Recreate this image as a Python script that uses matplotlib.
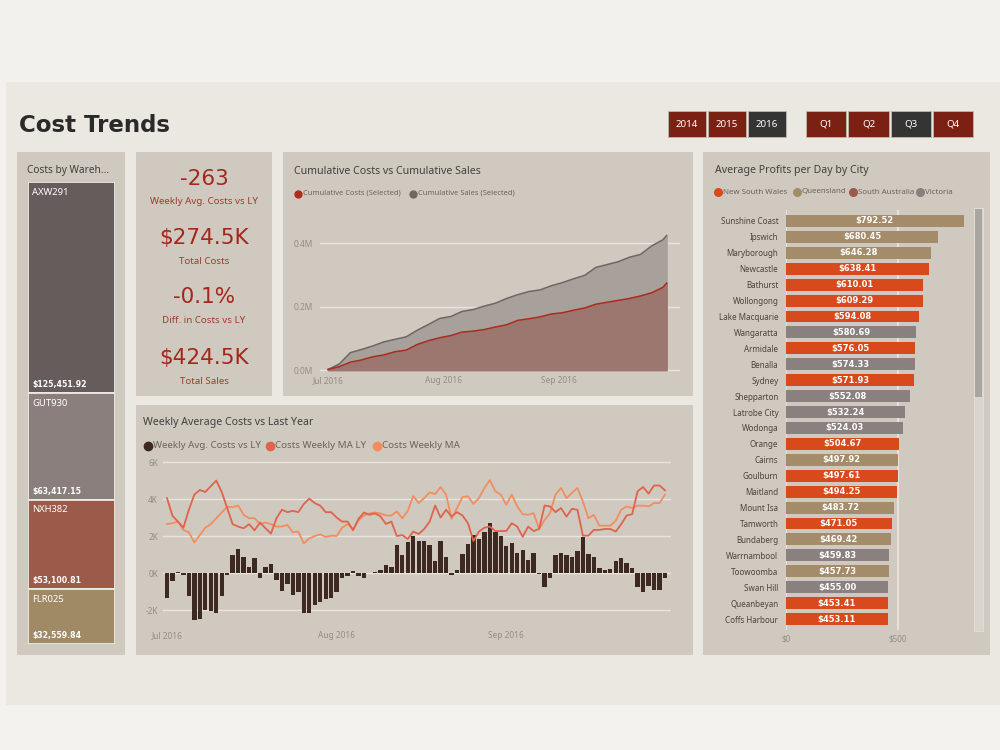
import matplotlib.pyplot as plt
from matplotlib.patches import Rectangle
from matplotlib.lines import Line2D

plt.rcParams['font.family'] = ['Noto Sans', 'DejaVu Sans']

# ---- data ----
years = ["2014", "2015", "2016"]
quarters = ["Q1", "Q2", "Q3", "Q4"]
selected_year = "2016"
selected_quarter = "Q3"

warehouses = ["AXW291", "GUT930", "NXH382", "FLR025"]
warehouse_costs = [125451.92, 63417.15, 53100.81, 32559.84]
warehouse_colors = ["#655c5b", "#8b7f7e", "#9b5a4a", "#a08a66"]

kpi_values = ["-263", "$274.5K", "-0.1%", "$424.5K"]
kpi_labels = ["Weekly Avg. Costs vs LY", "Total Costs", "Diff. in Costs vs LY", "Total Sales"]

month_labels = ["Jul 2016", "Aug 2016", "Sep 2016"]
month_start = [0, 31, 62]

# cumulative values (millions), read every 3 days from 1 Jul
cum_days = [0, 3, 6, 9, 12, 15, 18, 21, 24, 27, 30, 33, 36, 39, 42, 45,
            48, 51, 54, 57, 60, 63, 66, 69, 72, 75, 78, 81, 84, 87, 90, 91]
cum_sales = [0.002, 0.019, 0.055, 0.065, 0.076, 0.089, 0.097, 0.105, 0.126, 0.144, 0.163,
             0.169, 0.185, 0.191, 0.202, 0.211, 0.226, 0.238, 0.248, 0.253, 0.266, 0.276,
             0.288, 0.299, 0.324, 0.333, 0.342, 0.356, 0.365, 0.392, 0.411, 0.4245]
cum_costs = [0.002, 0.011, 0.025, 0.032, 0.042, 0.048, 0.058, 0.063, 0.081, 0.093, 0.102,
             0.109, 0.120, 0.123, 0.128, 0.136, 0.143, 0.157, 0.162, 0.168, 0.177, 0.181,
             0.189, 0.196, 0.208, 0.214, 0.220, 0.226, 0.234, 0.244, 0.261, 0.2745]

# daily values (thousands), 1 Jul - 30 Sep
weekly_vs_ly = [-1.35, -0.45, 0.05, -0.1, -1.25, -2.6, -2.5, -2.0, -2.05, -2.15,
                -1.25, -0.1, 1.0, 1.3, 0.85, 0.3, 0.8, -0.25, 0.3, 0.5,
                -0.4, -0.95, -0.6, -1.2, -1.0, -2.15, -2.15, -1.75, -1.55, -1.4,
                -1.35, -1.0, -0.25, -0.15, 0.12, -0.15, -0.28, -0.02, 0.04, 0.16,
                0.45, 0.3, 1.5, 1.0, 1.7, 2.0, 1.75, 1.73, 1.5, 0.67,
                1.73, 0.85, -0.1, 0.18, 1.04, 1.56, 2.05, 1.85, 2.2, 2.69,
                2.2, 2.02, 1.47, 1.62, 1.07, 1.27, 0.7, 1.09, -0.03, -0.78,
                -0.26, 0.98, 1.06, 1.0, 0.87, 1.2, 1.93, 1.02, 0.84, 0.28,
                0.19, 0.2, 0.65, 0.81, 0.56, 0.28, -0.78, -1.04, -0.69, -0.94,
                -0.94, -0.26]
costs_ma_ly = [4.05, 3.09, 2.78, 2.45, 3.42, 4.24, 4.49, 4.38, 4.69, 5.0,
               4.38, 3.51, 2.64, 2.51, 2.42, 2.64, 2.31, 2.73, 2.42, 2.13,
               2.96, 3.42, 3.29, 3.36, 3.29, 3.73, 4.02, 3.78, 3.64, 3.29,
               3.29, 3.0, 2.78, 2.78, 2.31, 2.93, 3.27, 3.15, 3.22, 3.07,
               2.65, 2.78, 2.0, 2.05, 1.84, 2.24, 2.11, 2.38, 2.78, 3.65,
               3.0, 3.42, 3.05, 3.29, 3.11, 2.69, 1.73, 2.24, 2.45, 2.51,
               2.27, 2.27, 2.27, 2.69, 2.51, 1.96, 2.51, 2.27, 2.38, 3.65,
               3.6, 3.29, 3.51, 3.05, 3.47, 3.42, 2.02, 2.02, 2.33, 2.33,
               2.38, 2.38, 2.24, 2.64, 3.11, 3.18, 4.42, 4.65, 4.29, 4.73,
               4.73, 4.47]
costs_ma = [2.65, 2.69, 2.78, 2.33, 2.2, 1.65, 2.05, 2.45, 2.64, 2.96,
            3.27, 3.58, 3.56, 3.65, 3.15, 2.96, 2.96, 2.65, 2.73, 2.64,
            2.51, 2.51, 2.6, 2.2, 2.24, 1.6, 1.87, 2.0, 2.09, 1.95,
            2.02, 2.0, 2.45, 2.64, 2.38, 2.84, 3.11, 3.22, 3.27, 3.22,
            3.11, 3.11, 3.33, 2.96, 3.36, 4.15, 3.78, 4.05, 4.36, 4.27,
            4.65, 4.24, 2.93, 3.51, 4.11, 4.15, 3.73, 4.05, 4.6, 5.02,
            4.42, 4.24, 3.69, 4.24, 3.6, 3.18, 3.15, 3.24, 2.38, 2.87,
            3.24, 4.24, 4.6, 4.05, 4.33, 4.6, 3.87, 2.96, 3.15, 2.56,
            2.56, 2.56, 2.82, 3.42, 3.6, 3.51, 3.64, 3.64, 3.6, 3.78,
            3.78, 4.24]

cities = ["Sunshine Coast", "Ipswich", "Maryborough", "Newcastle", "Bathurst", "Wollongong",
          "Lake Macquarie", "Wangaratta", "Armidale", "Benalla", "Sydney", "Shepparton",
          "Latrobe City", "Wodonga", "Orange", "Cairns", "Goulburn", "Maitland", "Mount Isa",
          "Tamworth", "Bundaberg", "Warrnambool", "Toowoomba", "Swan Hill", "Queanbeyan",
          "Coffs Harbour"]
city_profit = [792.52, 680.45, 646.28, 638.41, 610.01, 609.29, 594.08, 580.69, 576.05,
               574.33, 571.93, 552.08, 532.24, 524.03, 504.67, 497.92, 497.61, 494.25,
               483.72, 471.05, 469.42, 459.83, 457.73, 455.00, 453.41, 453.11]
city_state = ["QLD", "QLD", "QLD", "NSW", "NSW", "NSW", "NSW", "VIC", "NSW", "VIC", "NSW",
              "VIC", "VIC", "VIC", "NSW", "QLD", "NSW", "NSW", "QLD", "NSW", "QLD", "VIC",
              "QLD", "VIC", "NSW", "NSW"]
state_names = ["New South Wales", "Queensland", "South Australia", "Victoria"]
state_codes = ["NSW", "QLD", "SA", "VIC"]
state_colors = {"NSW": "#d84a1b", "QLD": "#a48b69", "SA": "#9b5a4a", "VIC": "#8b8080"}

# ---- layout helpers (pixel coords, origin top-left) ----
W, H = 1000, 750
PANEL = "#d0c9bf"
TITLE_C = "#404040"
TICK_C = "#948d86"
LEG_C = "#6b645e"

fig = plt.figure(figsize=(10, 7.5), dpi=100, facecolor="#ebe8e1")


def rect(x0, y0, x1, y1, color, z=-1, ec="none", lw=0):
    fig.add_artist(Rectangle((x0 / W, 1 - y1 / H), (x1 - x0) / W, (y1 - y0) / H,
                             transform=fig.transFigure, facecolor=color,
                             edgecolor=ec, linewidth=lw, zorder=z))


def ftext(x, y, s, **kw):
    kw.setdefault("va", "center")
    fig.text(x / W, 1 - y / H, s, **kw)


def dot(x, y, color, size=5.5):
    fig.add_artist(Line2D([x / W], [1 - y / H], marker="o", markersize=size,
                          color=color, linestyle="none", transform=fig.transFigure))


def add_ax(x0, y0, x1, y1):
    ax = fig.add_axes([x0 / W, 1 - y1 / H, (x1 - x0) / W, (y1 - y0) / H])
    ax.set_facecolor("none")
    for s in ax.spines.values():
        s.set_visible(False)
    return ax


# background bands
rect(0, 0, 1000, 82, "#f2f1ed", z=-3)
rect(0, 82, 6, 705, "#f3f2ee", z=-3)
rect(0, 705, 1000, 750, "#f3f2ef", z=-3)

# title
ftext(19, 126, "Cost Trends", fontsize=16.5, fontweight="bold",
      family=["DejaVu Sans"], color="#2a2a2a")

# slicer buttons
year_btn = [(668, 706), (708, 746), (748, 786)]
for (x0, x1), y in zip(year_btn, years):
    c = "#343434" if y == selected_year else "#7b2114"
    rect(x0, 111, x1, 137, c, z=1, ec="#bdb8b2", lw=0.6)
    ftext((x0 + x1) / 2, 124.5, y, ha="center", color="white", fontsize=7)
q_btn = [(806, 846), (848, 889), (891, 931), (933, 973)]
for (x0, x1), q in zip(q_btn, quarters):
    c = "#343434" if q == selected_quarter else "#7b2114"
    rect(x0, 111, x1, 137, c, z=1, ec="#bdb8b2", lw=0.6)
    ftext((x0 + x1) / 2, 124.5, q, ha="center", color="white", fontsize=7)

# panels
rect(17, 152, 125, 655, PANEL)
rect(136, 152, 272, 396, PANEL)
rect(283, 152, 693, 396, PANEL)
rect(136, 405, 693, 655, PANEL)
rect(703, 152, 990, 655, PANEL)

# ---- treemap: costs by warehouse ----
ftext(27, 171, "Costs by Wareh...", fontsize=7.3, color=TITLE_C)
ax = add_ax(28, 182, 115, 644)
total = sum(warehouse_costs)
bottoms = [sum(warehouse_costs[:i]) for i in range(len(warehouse_costs))]
ax.bar([0] * 4, warehouse_costs, bottom=bottoms, width=1, color=warehouse_colors,
       edgecolor="#eeebe5", linewidth=1.3)
ax.set_xlim(-0.5, 0.5)
ax.set_ylim(total, 0)
ax.set_xticks([])
ax.set_yticks([])
for name, val, b in zip(warehouses, warehouse_costs, bottoms):
    ax.annotate(name, xy=(-0.5, b), xytext=(3, -4), textcoords="offset points",
                va="top", ha="left", color="white", fontsize=6.8, fontweight="bold")
    ax.annotate(f"${val:,.2f}", xy=(-0.5, b + val), xytext=(3, 3), textcoords="offset points",
                va="bottom", ha="left", color="white", fontsize=5.6,
                family=["Liberation Sans Narrow", "DejaVu Sans"], fontweight="bold")

# ---- KPI cards ----
kpi_y = [179, 238, 297, 358]
for v, lab, y in zip(kpi_values, kpi_labels, kpi_y):
    ftext(204, y, v, ha="center", color="#a3271b", fontsize=15.5,
          family=["Liberation Sans Narrow", "DejaVu Sans"])
    ftext(204, y + 23, lab, ha="center", color="#9d3d2e", fontsize=7)

# ---- cumulative costs vs sales ----
ftext(294, 172, "Cumulative Costs vs Cumulative Sales", fontsize=7.6, color=TITLE_C)
dot(298, 193.5, "#ae2b1f", 5)
ftext(303, 193.5, "Cumulative Costs (Selected)", fontsize=5.4, color=LEG_C)
dot(413, 193.5, "#6e6764", 5)
ftext(418, 193.5, "Cumulative Sales (Selected)", fontsize=5.4, color=LEG_C)

ax = add_ax(320, 230, 680, 372)
ax.fill_between(cum_days, cum_sales, color="#a8a19b", zorder=2)
ax.plot(cum_days, cum_sales, color="#6e6764", lw=1.1, zorder=3)
ax.fill_between(cum_days, cum_costs, color="#9b7770", zorder=4)
ax.plot(cum_days, cum_costs, color="#ae2b1f", lw=1.1, zorder=5)
ax.set_xlim(-2.15, 94.6)
ax.set_ylim(-0.006, 0.442)
ax.set_yticks([0, 0.2, 0.4])
ax.set_yticklabels(["0.0M", "0.2M", "0.4M"])
ax.set_xticks(month_start)
ax.set_xticklabels(month_labels)
ax.grid(axis="y", color="#e9e5de", lw=1, zorder=0)
ax.set_axisbelow(True)
ax.tick_params(length=0, labelsize=6, colors=TICK_C)
ax.tick_params(axis="y", pad=5)
ax.tick_params(axis="x", pad=3)

# ---- weekly average costs vs last year ----
ftext(143, 422, "Weekly Average Costs vs Last Year", fontsize=7.6, color=TITLE_C)
dot(148, 445.5, "#3d2822", 6)
ftext(153, 445.5, "Weekly Avg. Costs vs LY", fontsize=7, color=LEG_C)
dot(270, 445.5, "#e0634c", 6)
ftext(275, 445.5, "Costs Weekly MA LY", fontsize=7, color=LEG_C)
dot(377, 445.5, "#f28d60", 6)
ftext(382, 445.5, "Costs Weekly MA", fontsize=7, color=LEG_C)

ax = add_ax(163, 455, 671, 620)
days = list(range(len(weekly_vs_ly)))
ax.bar(days, weekly_vs_ly, width=0.8, color="#3d2822", zorder=2)
ax.plot(days, costs_ma, color="#f28d60", lw=1.3, zorder=3)
ax.plot(days, costs_ma_ly, color="#e0634c", lw=1.3, zorder=4)
ax.set_xlim(-0.73, 92.1)
ax.set_ylim(-2.54, 6.38)
ax.set_yticks([-2, 0, 2, 4, 6])
ax.set_yticklabels(["-2K", "0K", "2K", "4K", "6K"])
ax.set_xticks(month_start)
ax.set_xticklabels(month_labels)
ax.grid(axis="y", color="#e9e5de", lw=1, zorder=0)
ax.set_axisbelow(True)
ax.tick_params(length=0, labelsize=6, colors=TICK_C)
ax.tick_params(axis="y", pad=3.5)
ax.tick_params(axis="x", pad=8)

# ---- average profits per day by city ----
ftext(715, 171, "Average Profits per Day by City", fontsize=7.6, color=TITLE_C)
leg_x = [(718, 723), (797, 802), (853, 858), (920, 925)]
for (dx, tx), name, code in zip(leg_x, state_names, state_codes):
    dot(dx, 192, state_colors[code], 5.5)
    ftext(tx, 192, name, fontsize=5.7, color=LEG_C)

ax = add_ax(786, 210, 972, 630)
rows = list(range(len(cities)))
ax.barh(rows, city_profit, height=0.75, color=[state_colors[s] for s in city_state], zorder=2)
for r, v in zip(rows, city_profit):
    ax.text(v / 2, r, f"${v:.2f}", ha="center", va="center", color="white",
            fontsize=6, fontweight="bold", family=["Liberation Sans Narrow", "DejaVu Sans"],
            zorder=3)
ax.axvline(0, color="#e6e1da", lw=1.5, zorder=0)
ax.axvline(500, color="#e6e1da", lw=1.5, zorder=0)
ax.set_xlim(0, 830)
ax.set_ylim(25.69, -0.69)
ax.set_yticks(rows)
ax.set_yticklabels(cities)
ax.set_xticks([0, 500])
ax.set_xticklabels(["$0", "$500"])
ax.tick_params(length=0, labelsize=5.8)
ax.tick_params(axis="y", pad=5.5, colors="#4a4542")
ax.tick_params(axis="x", pad=3, colors=TICK_C)

# scrollbar
rect(974, 208, 983, 631, "#d9d4cd", z=1, ec="#e4e0da", lw=0.6)
rect(975, 209, 982, 397, "#a9a5a0", z=1)

fig.savefig("out.png", dpi=100, facecolor=fig.get_facecolor())
